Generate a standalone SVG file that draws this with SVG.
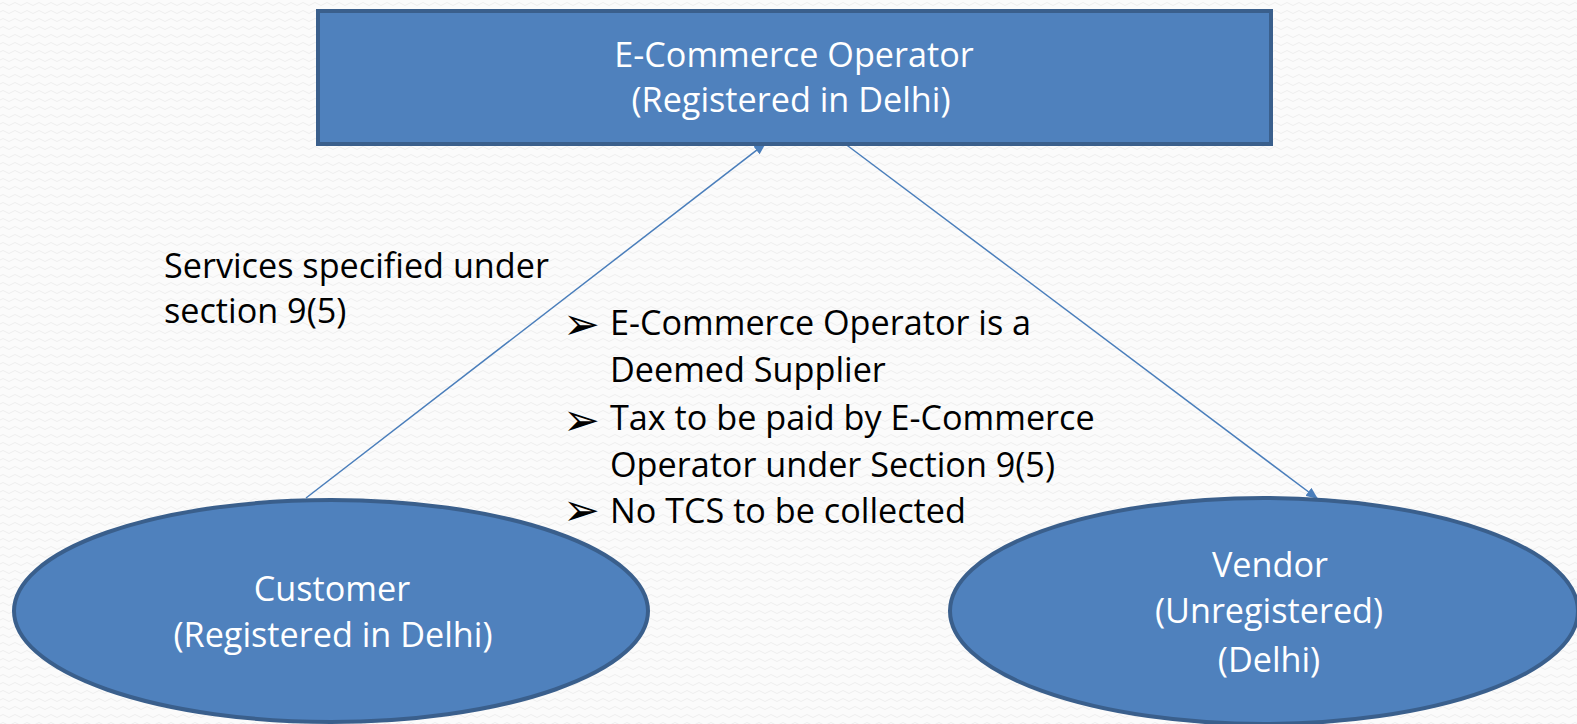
<svg xmlns="http://www.w3.org/2000/svg" width="1577" height="724" viewBox="0 0 1577 724">
<style>
.node{fill:#4f81bd;stroke:#3a5f8c;stroke-width:4}
.wt{font-family:"Open Sans","Liberation Sans",sans-serif;font-size:34.2px;fill:#ffffff;text-anchor:middle}
.bt{font-family:"Open Sans","Liberation Sans",sans-serif;font-size:34.2px;fill:#000000}
.bul{font-family:"DejaVu Sans",sans-serif;font-size:44px;fill:#000000}
.conn{stroke:#4a7ebb;stroke-width:1.5;fill:none;marker-end:url(#ah)}
</style>
<defs>
<marker id="ah" viewBox="0 0 12 10" refX="12" refY="5" markerWidth="12" markerHeight="10" markerUnits="userSpaceOnUse" orient="auto">
<path d="M0,0 L12,5 L0,10 Z" fill="#4a7ebb"/>
</marker>
<pattern id="bg" width="12" height="8" patternUnits="userSpaceOnUse">
<path d="M0,4 Q3,1 6,4 T12,4" fill="none" stroke="#eeeeee" stroke-width="1"/>
</pattern>
</defs>
<rect width="1577" height="724" fill="#fbfbfb"/>
<rect width="1577" height="724" fill="url(#bg)"/>
<g id="connectors">
<line class="conn" x1="306" y1="498" x2="766" y2="143"/>
<line class="conn" x1="844" y1="143" x2="1318" y2="499"/>
</g>
<g id="ecommerce-operator">
<rect class="node" x="318" y="11" width="953" height="133"/>
<text class="wt" x="794" y="67">E-Commerce Operator</text>
<text class="wt" x="791" y="112">(Registered in Delhi)</text>
</g>
<g id="customer">
<ellipse class="node" cx="331" cy="611" rx="317" ry="111"/>
<text class="wt" x="332" y="601">Customer</text>
<text class="wt" x="333" y="647">(Registered in Delhi)</text>
</g>
<g id="vendor">
<ellipse class="node" cx="1264" cy="611" rx="314" ry="113"/>
<text class="wt" x="1270" y="577">Vendor</text>
<text class="wt" x="1269" y="623">(Unregistered)</text>
<text class="wt" x="1269" y="672">(Delhi)</text>
</g>
<g id="services-label">
<text class="bt" x="164" y="278">Services specified under</text>
<text class="bt" x="164" y="323">section 9(5)</text>
</g>
<g id="notes">
<text class="bul" x="563" y="339">➢</text>
<text class="bt" x="610" y="335">E-Commerce Operator is a</text>
<text class="bt" x="610" y="382">Deemed Supplier</text>
<text class="bul" x="563" y="435">➢</text>
<text class="bt" x="610" y="430">Tax to be paid by E-Commerce</text>
<text class="bt" x="610" y="477">Operator under Section 9(5)</text>
<text class="bul" x="563" y="525">➢</text>
<text class="bt" x="610" y="523">No TCS to be collected</text>
</g>
</svg>
